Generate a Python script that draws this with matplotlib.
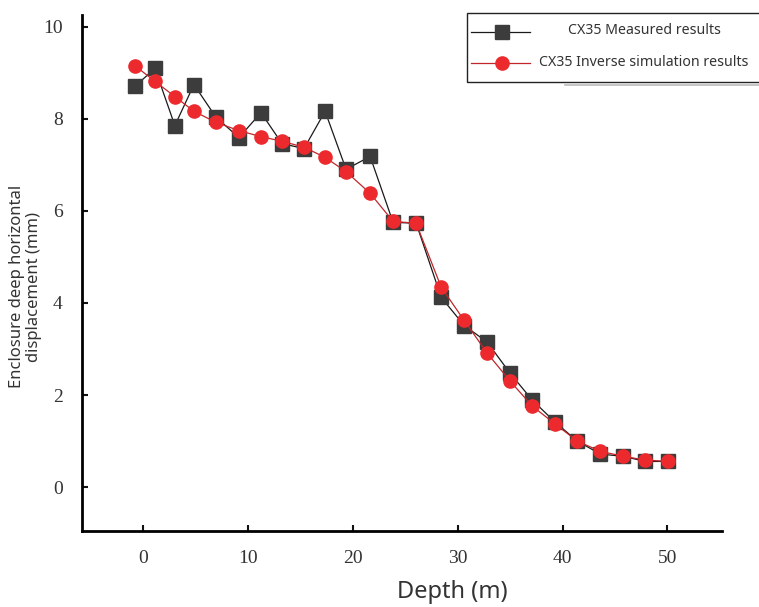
import matplotlib
matplotlib.use("Agg")
import matplotlib.pyplot as plt
from matplotlib.lines import Line2D
from matplotlib.patches import Rectangle

# Data
depth = [-0.76, 1.15, 3.05, 4.87, 6.97, 9.16, 11.26, 13.26, 15.36, 17.37, 19.37,
         21.66, 23.85, 26.05, 28.44, 30.63, 32.82, 35.02, 37.12, 39.31, 41.41,
         43.61, 45.80, 47.90, 50.10]
measured = [8.70, 9.09, 7.85, 8.74, 8.03, 7.59, 8.13, 7.46, 7.35, 8.16, 6.90,
            7.18, 5.75, 5.73, 4.12, 3.51, 3.15, 2.47, 1.89, 1.41, 1.00, 0.72,
            0.67, 0.56, 0.56]
simulated = [9.15, 8.81, 8.48, 8.16, 7.92, 7.74, 7.61, 7.51, 7.38, 7.16, 6.85,
             6.38, 5.77, 5.73, 4.34, 3.62, 2.91, 2.30, 1.76, 1.37, 1.00, 0.78,
             0.67, 0.59, 0.56]
xticks = [0, 10, 20, 30, 40, 50]
yticks = [0, 2, 4, 6, 8, 10]
label_measured = "CX35 Measured results"
label_sim = "CX35 Inverse simulation results"

sq_color = "#3c3c3c"
red = "#ec2a2e"

fig = plt.figure(figsize=(7.59, 6.07), dpi=100)
ax = fig.add_axes([82/759, 1-531/607, 640/759, 516/607])

ax.plot(depth, measured, color="#1a1a1a", lw=0.9, marker="s", ms=9.5,
        mfc=sq_color, mec=sq_color, zorder=3)
ax.plot(depth, simulated, color="#c0262a", lw=0.9, marker="o", ms=9.5,
        mfc=red, mec=red, zorder=4)

ax.set_xlim(-5.8, 55.2)
ax.set_ylim(-0.95, 10.25)
ax.set_xticks(xticks)
ax.set_yticks(yticks)
for s in ["top", "right"]:
    ax.spines[s].set_visible(False)
for s in ["left", "bottom"]:
    ax.spines[s].set_linewidth(2)
ax.tick_params(direction="in", length=4, width=1.5, colors="#111111",
               labelcolor="#333333")
ax.tick_params(axis="x", pad=14)
ax.tick_params(axis="y", pad=14)
for lab in ax.get_xticklabels() + ax.get_yticklabels():
    lab.set_fontfamily("Liberation Serif")
    lab.set_fontsize(14)

ax.set_xlabel("Depth (m)", fontsize=17, family="Noto Sans", color="#333333")
ax.xaxis.set_label_coords(0.578, -0.095)
ax.set_ylabel("Enclosure deep horizontal\ndisplacement (mm)", fontsize=12,
              family="Noto Sans", color="#333333", linespacing=1.15,
              multialignment="center")
ax.yaxis.set_label_coords(-0.062, 0.473)

# Legend box (partly outside the figure as in the reference)
fig.patches.append(Rectangle((467/759, 1-82/607), 300/759, 69/607,
                             transform=fig.transFigure, fill=False,
                             edgecolor="#222222", lw=1.0))
fig.lines.append(Line2D([471/759, 530/759], [1-32/607, 1-32/607],
                        transform=fig.transFigure, color="#1a1a1a", lw=0.9))
fig.lines.append(Line2D([502/759], [1-32/607], transform=fig.transFigure,
                        marker="s", ms=9.5, mfc=sq_color, mec=sq_color, lw=0))
fig.lines.append(Line2D([471/759, 530/759], [1-63/607, 1-63/607],
                        transform=fig.transFigure, color="#c0262a", lw=0.9))
fig.lines.append(Line2D([502/759], [1-63/607], transform=fig.transFigure,
                        marker="o", ms=9.5, mfc=red, mec=red, lw=0))
fig.text(568/759, 1-31/607, label_measured, fontsize=10.2, family="Noto Sans",
         color="#333333", va="center", ha="left")
fig.text(539/759, 1-62/607, label_sim, fontsize=10.2, family="Noto Sans",
         color="#333333", va="center", ha="left")
fig.lines.append(Line2D([565/759, 1.0], [1-85/607, 1-85/607],
                        transform=fig.transFigure, color="#bbbbbb", lw=1.2))

fig.savefig("out.png", dpi=100)
